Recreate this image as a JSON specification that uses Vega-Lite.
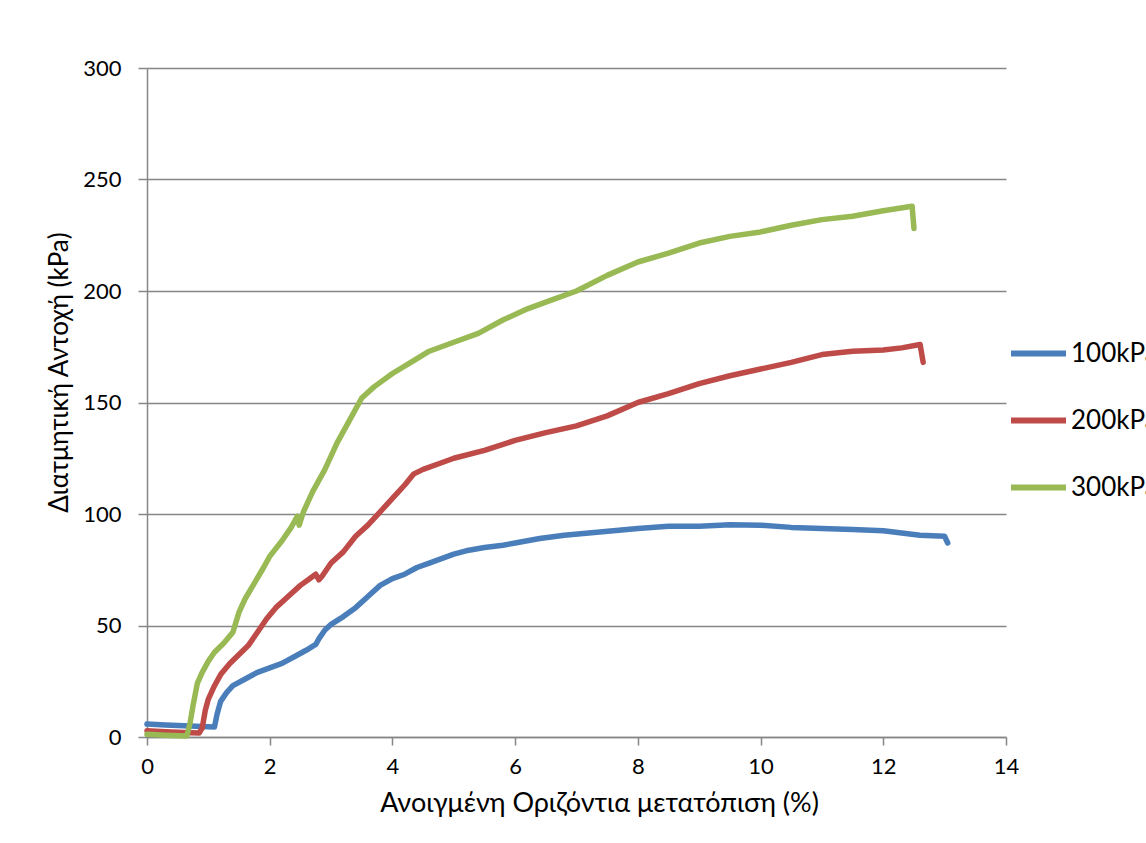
{
  "$schema": "https://vega.github.io/schema/vega-lite/v6.json",
  "width": 859,
  "height": 669,
  "autosize": "none",
  "padding": {"left": 147, "top": 68, "right": 140, "bottom": 106},
  "background": "white",
  "config": {
    "font": "Lato",
    "view": {"stroke": null},
    "axis": {
      "domainColor": "#868686",
      "tickColor": "#868686",
      "gridColor": "#868686",
      "labelColor": "#000000",
      "titleColor": "#000000",
      "labelFontSize": 22,
      "titleFontSize": 27,
      "titleFontWeight": "normal",
      "labelFont": "Lato",
      "titleFont": "Lato",
      "labelFlush": false,
      "domainWidth": 1.5,
      "tickWidth": 1.5,
      "gridWidth": 1.5
    }
  },
  "data": {
    "values": [
      {"s": "100kPa", "x": 0, "y": 5.8},
      {"s": "100kPa", "x": 0.3, "y": 5.4},
      {"s": "100kPa", "x": 0.6, "y": 5.0},
      {"s": "100kPa", "x": 0.9, "y": 4.7},
      {"s": "100kPa", "x": 1.1, "y": 4.5},
      {"s": "100kPa", "x": 1.14, "y": 10},
      {"s": "100kPa", "x": 1.2, "y": 16},
      {"s": "100kPa", "x": 1.3, "y": 20},
      {"s": "100kPa", "x": 1.4, "y": 23},
      {"s": "100kPa", "x": 1.6, "y": 26},
      {"s": "100kPa", "x": 1.8, "y": 29},
      {"s": "100kPa", "x": 2.0, "y": 31},
      {"s": "100kPa", "x": 2.2, "y": 33},
      {"s": "100kPa", "x": 2.4, "y": 36},
      {"s": "100kPa", "x": 2.6, "y": 39},
      {"s": "100kPa", "x": 2.75, "y": 41.5},
      {"s": "100kPa", "x": 2.8, "y": 44},
      {"s": "100kPa", "x": 2.9, "y": 48},
      {"s": "100kPa", "x": 3.0, "y": 50.5},
      {"s": "100kPa", "x": 3.2, "y": 54},
      {"s": "100kPa", "x": 3.4, "y": 58},
      {"s": "100kPa", "x": 3.6, "y": 63},
      {"s": "100kPa", "x": 3.8, "y": 68},
      {"s": "100kPa", "x": 4.0, "y": 71},
      {"s": "100kPa", "x": 4.2, "y": 73},
      {"s": "100kPa", "x": 4.4, "y": 76},
      {"s": "100kPa", "x": 4.6, "y": 78},
      {"s": "100kPa", "x": 4.8, "y": 80},
      {"s": "100kPa", "x": 5.0, "y": 82},
      {"s": "100kPa", "x": 5.2, "y": 83.5},
      {"s": "100kPa", "x": 5.5, "y": 85},
      {"s": "100kPa", "x": 5.8, "y": 86},
      {"s": "100kPa", "x": 6.0, "y": 87},
      {"s": "100kPa", "x": 6.4, "y": 89},
      {"s": "100kPa", "x": 6.8, "y": 90.5},
      {"s": "100kPa", "x": 7.2, "y": 91.5},
      {"s": "100kPa", "x": 7.6, "y": 92.5},
      {"s": "100kPa", "x": 8.0, "y": 93.5},
      {"s": "100kPa", "x": 8.5, "y": 94.5},
      {"s": "100kPa", "x": 9.0, "y": 94.5},
      {"s": "100kPa", "x": 9.5, "y": 95.2},
      {"s": "100kPa", "x": 10.0, "y": 95},
      {"s": "100kPa", "x": 10.5, "y": 94},
      {"s": "100kPa", "x": 11.0, "y": 93.5},
      {"s": "100kPa", "x": 11.5, "y": 93},
      {"s": "100kPa", "x": 12.0, "y": 92.5},
      {"s": "100kPa", "x": 12.3, "y": 91.5},
      {"s": "100kPa", "x": 12.6, "y": 90.5},
      {"s": "100kPa", "x": 13.0, "y": 90},
      {"s": "100kPa", "x": 13.05, "y": 87},
      {"s": "200kPa", "x": 0, "y": 2.8},
      {"s": "200kPa", "x": 0.3, "y": 2.4},
      {"s": "200kPa", "x": 0.6, "y": 2.0},
      {"s": "200kPa", "x": 0.85, "y": 1.8},
      {"s": "200kPa", "x": 0.9, "y": 4},
      {"s": "200kPa", "x": 0.95, "y": 12},
      {"s": "200kPa", "x": 1.0, "y": 17},
      {"s": "200kPa", "x": 1.1, "y": 23},
      {"s": "200kPa", "x": 1.2, "y": 28},
      {"s": "200kPa", "x": 1.35, "y": 33},
      {"s": "200kPa", "x": 1.5, "y": 37},
      {"s": "200kPa", "x": 1.65, "y": 41},
      {"s": "200kPa", "x": 1.8, "y": 47},
      {"s": "200kPa", "x": 1.95, "y": 53},
      {"s": "200kPa", "x": 2.1, "y": 58},
      {"s": "200kPa", "x": 2.3, "y": 63},
      {"s": "200kPa", "x": 2.5, "y": 68},
      {"s": "200kPa", "x": 2.65, "y": 71},
      {"s": "200kPa", "x": 2.75, "y": 73},
      {"s": "200kPa", "x": 2.8, "y": 70.5},
      {"s": "200kPa", "x": 2.85, "y": 72},
      {"s": "200kPa", "x": 3.0, "y": 78},
      {"s": "200kPa", "x": 3.2, "y": 83},
      {"s": "200kPa", "x": 3.4, "y": 90},
      {"s": "200kPa", "x": 3.6, "y": 95},
      {"s": "200kPa", "x": 3.8, "y": 101},
      {"s": "200kPa", "x": 4.0, "y": 107},
      {"s": "200kPa", "x": 4.2, "y": 113},
      {"s": "200kPa", "x": 4.35, "y": 118},
      {"s": "200kPa", "x": 4.5, "y": 120},
      {"s": "200kPa", "x": 4.8, "y": 123},
      {"s": "200kPa", "x": 5.0, "y": 125},
      {"s": "200kPa", "x": 5.5, "y": 128.5},
      {"s": "200kPa", "x": 6.0, "y": 133},
      {"s": "200kPa", "x": 6.5, "y": 136.5},
      {"s": "200kPa", "x": 7.0, "y": 139.5},
      {"s": "200kPa", "x": 7.5, "y": 144},
      {"s": "200kPa", "x": 8.0, "y": 150},
      {"s": "200kPa", "x": 8.5, "y": 154},
      {"s": "200kPa", "x": 9.0, "y": 158.5},
      {"s": "200kPa", "x": 9.5, "y": 162},
      {"s": "200kPa", "x": 10.0, "y": 165},
      {"s": "200kPa", "x": 10.5, "y": 168},
      {"s": "200kPa", "x": 11.0, "y": 171.5},
      {"s": "200kPa", "x": 11.5, "y": 173},
      {"s": "200kPa", "x": 12.0, "y": 173.5},
      {"s": "200kPa", "x": 12.3, "y": 174.5},
      {"s": "200kPa", "x": 12.6, "y": 176},
      {"s": "200kPa", "x": 12.65, "y": 168},
      {"s": "300kPa", "x": 0, "y": 1.2},
      {"s": "300kPa", "x": 0.3, "y": 0.8},
      {"s": "300kPa", "x": 0.65, "y": 0.5},
      {"s": "300kPa", "x": 0.7, "y": 6},
      {"s": "300kPa", "x": 0.75, "y": 14},
      {"s": "300kPa", "x": 0.82, "y": 24},
      {"s": "300kPa", "x": 0.9, "y": 29},
      {"s": "300kPa", "x": 1.0, "y": 34},
      {"s": "300kPa", "x": 1.1, "y": 38},
      {"s": "300kPa", "x": 1.25, "y": 42},
      {"s": "300kPa", "x": 1.4, "y": 47},
      {"s": "300kPa", "x": 1.5, "y": 56},
      {"s": "300kPa", "x": 1.6, "y": 62},
      {"s": "300kPa", "x": 1.75, "y": 69},
      {"s": "300kPa", "x": 1.9, "y": 76},
      {"s": "300kPa", "x": 2.0, "y": 81},
      {"s": "300kPa", "x": 2.2, "y": 88},
      {"s": "300kPa", "x": 2.35, "y": 94},
      {"s": "300kPa", "x": 2.45, "y": 99},
      {"s": "300kPa", "x": 2.48, "y": 95},
      {"s": "300kPa", "x": 2.55, "y": 101},
      {"s": "300kPa", "x": 2.7, "y": 110},
      {"s": "300kPa", "x": 2.9, "y": 120},
      {"s": "300kPa", "x": 3.1, "y": 132},
      {"s": "300kPa", "x": 3.3, "y": 142},
      {"s": "300kPa", "x": 3.5, "y": 152},
      {"s": "300kPa", "x": 3.7, "y": 157},
      {"s": "300kPa", "x": 4.0, "y": 163},
      {"s": "300kPa", "x": 4.3, "y": 168},
      {"s": "300kPa", "x": 4.6, "y": 173},
      {"s": "300kPa", "x": 5.0, "y": 177},
      {"s": "300kPa", "x": 5.4, "y": 181},
      {"s": "300kPa", "x": 5.8, "y": 187},
      {"s": "300kPa", "x": 6.2, "y": 192},
      {"s": "300kPa", "x": 6.6, "y": 196},
      {"s": "300kPa", "x": 7.0, "y": 200},
      {"s": "300kPa", "x": 7.5, "y": 207},
      {"s": "300kPa", "x": 8.0, "y": 213},
      {"s": "300kPa", "x": 8.5, "y": 217},
      {"s": "300kPa", "x": 9.0, "y": 221.5},
      {"s": "300kPa", "x": 9.5, "y": 224.5},
      {"s": "300kPa", "x": 10.0, "y": 226.5},
      {"s": "300kPa", "x": 10.5, "y": 229.5},
      {"s": "300kPa", "x": 11.0, "y": 232},
      {"s": "300kPa", "x": 11.5, "y": 233.5},
      {"s": "300kPa", "x": 12.0, "y": 236},
      {"s": "300kPa", "x": 12.47, "y": 238},
      {"s": "300kPa", "x": 12.5, "y": 228}
    ]
  },
  "mark": {"type": "line", "strokeWidth": 5.5, "strokeCap": "round", "strokeJoin": "round"},
  "encoding": {
    "x": {
      "field": "x",
      "type": "quantitative",
      "scale": {"domain": [0, 14], "nice": false, "zero": false},
      "axis": {
        "title": "Ανοιγμένη Οριζόντια μετατόπιση (%)",
        "values": [0, 2, 4, 6, 8, 10, 12, 14],
        "grid": false,
        "tickSize": 8,
        "labelPadding": 11,
        "titlePadding": 13,
        "titleX": 452
      }
    },
    "y": {
      "field": "y",
      "type": "quantitative",
      "scale": {"domain": [0, 300], "nice": false},
      "axis": {
        "title": "Διατμητική Αντοχή (kPa)",
        "values": [0, 50, 100, 150, 200, 250, 300],
        "grid": true,
        "tickSize": 9,
        "labelPadding": 17,
        "titleFontSize": 26,
        "titleX": -88,
        "titleY": 304,
        "titleAngle": 270,
        "titleAlign": "center",
        "titleBaseline": "middle"
      }
    },
    "color": {
      "field": "s",
      "type": "nominal",
      "scale": {"domain": ["100kPa", "200kPa", "300kPa"], "range": ["#4a7ebb", "#be4b48", "#98b954"]},
      "legend": {
        "title": null,
        "orient": "none",
        "legendX": 861,
        "legendY": 255,
        "symbolType": "stroke",
        "symbolSize": 3025,
        "symbolStrokeWidth": 6,
        "labelFontSize": 26,
        "labelColor": "#000000",
        "labelOffset": 2,
        "rowPadding": 23,
        "labelFont": "Lato"
      }
    },
    "order": {"value": null}
  }
}
